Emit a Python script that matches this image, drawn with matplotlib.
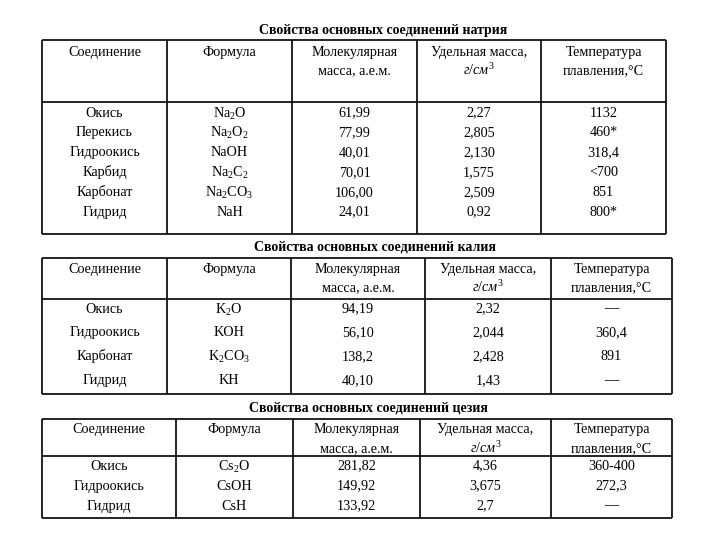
import matplotlib
matplotlib.use("Agg")
import matplotlib.pyplot as plt

plt.rcParams['font.family'] = ['Liberation Serif', 'DejaVu Serif']
plt.rcParams['mathtext.fontset'] = 'custom'
plt.rcParams['mathtext.rm'] = 'Liberation Serif'
plt.rcParams['mathtext.it'] = 'Liberation Serif:italic'
plt.rcParams['mathtext.bf'] = 'Liberation Serif:bold'

# ---- data ----
headers = ["Соединение", "Формула", "Молекулярная\nмасса, а.е.м.",
           "Удельная масса,\n", "Температура\nплавления,°С"]

na_title = "Свойства основных соединений натрия"
na_names = ["Окись", "Перекись", "Гидроокись", "Карбид", "Карбонат", "Гидрид"]
na_formulas = [r"Na$_2$O", r"Na$_2$O$_2$", "NaOH", r"Na$_2$C$_2$", r"Na$_2$CO$_3$", "NaH"]
na_mass = ["61,99", "77,99", "40,01", "70,01", "106,00", "24,01"]
na_density = ["2,27", "2,805", "2,130", "1,575", "2,509", "0,92"]
na_melt = ["1132", "460*", "318,4", "<700", "851", "800*"]

k_title = "Свойства основных соединений калия"
k_names = ["Окись", "Гидроокись", "Карбонат", "Гидрид"]
k_formulas = [r"K$_2$O", "KOH", r"K$_2$CO$_3$", "KH"]
k_mass = ["94,19", "56,10", "138,2", "40,10"]
k_density = ["2,32", "2,044", "2,428", "1,43"]
k_melt = ["—", "360,4", "891", "—"]

cs_title = "Свойства основных соединений цезия"
cs_names = ["Окись", "Гидроокись", "Гидрид"]
cs_formulas = [r"Cs$_2$O", "CsOH", "CsH"]
cs_mass = ["281,82", "149,92", "133,92"]
cs_density = ["4,36", "3,675", "2,7"]
cs_melt = ["360-400", "272,3", "—"]

tables = [
    (na_title, [na_names, na_formulas, na_mass, na_density, na_melt]),
    (k_title, [k_names, k_formulas, k_mass, k_density, k_melt]),
    (cs_title, [cs_names, cs_formulas, cs_mass, cs_density, cs_melt]),
]

# ---- layout (pixel coordinates, y = visual centre of cap height) ----
layouts = [
    dict(title_x=383, title_y=29, cols=[42, 167, 292, 417, 541, 666],
         top=40, hsep=102, bottom=234, h1=51, h2=70, row0=112, dy=19.8),
    dict(title_x=375, title_y=246, cols=[42, 167, 291, 425, 551, 672],
         top=258, hsep=299, bottom=394, h1=268, h2=287, row0=308, dy=23.8),
    dict(title_x=368, title_y=407, cols=[42, 176, 293, 420, 551, 672],
         top=419, hsep=456, bottom=518, h1=428, h2=448, row0=465, dy=20),
]

fig = plt.figure(figsize=(7.2, 5.4), dpi=100)
ax = fig.add_axes([0, 0, 1, 1])
ax.set_xlim(0, 720)
ax.set_ylim(540, 0)
ax.axis('off')

fs = 10.2
tfs = 10.0
lw = 1.2
base = 4.6  # baseline offset below visual centre


def put(x, y, s, **kw):
    off = 1.0 if "$_" in s else 0.0
    ax.text(x, y + base + off, s, ha='center', va='baseline', **kw)


for (title, columns), L in zip(tables, layouts):
    put(L['title_x'], L['title_y'], title, fontsize=tfs, fontweight='bold')
    cols = L['cols']
    # borders
    ax.hlines([L['top'], L['hsep'], L['bottom']], cols[0], cols[-1], color='black', lw=lw)
    ax.vlines(cols, L['top'], L['bottom'], color='black', lw=lw)
    centers = [(cols[i] + cols[i + 1]) / 2 for i in range(len(cols) - 1)]
    # headers
    for i, h in enumerate(headers):
        parts = h.split("\n")
        put(centers[i], L['h1'], parts[0], fontsize=fs)
        if len(parts) > 1 and parts[1]:
            put(centers[i], L['h2'], parts[1], fontsize=fs)
    put(centers[3], L['h2'], r"$\it{г/см}^{3}$", fontsize=fs)
    # body
    for i, col in enumerate(columns):
        for r, val in enumerate(col):
            put(centers[i], L['row0'] + r * L['dy'], val, fontsize=fs)

fig.savefig("out.png", dpi=100, facecolor='white')
